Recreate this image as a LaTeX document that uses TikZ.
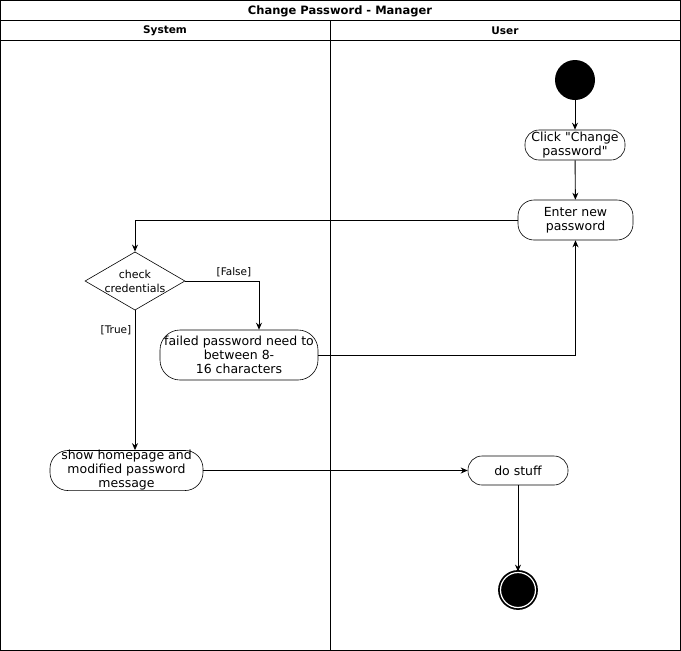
\documentclass[tikz,border=0pt]{standalone}
\usepackage{fontspec}
\setmainfont{DejaVu Sans}
\usepackage{tikz}
\usetikzlibrary{arrows,arrows.meta,shapes,calc,positioning}
\tikzstyle{lane}  =[line width=0.9pt]
\tikzstyle{action}=[draw, rectangle, rounded corners=14pt,
                    line width=0.6pt, align=center, inner sep=0pt,
                    font=\fontsize{12.5}{14}\selectfont]
\tikzstyle{decision}=[draw, diamond, aspect=1.7, inner sep=0pt,
                    minimum width=100pt, minimum height=58pt,
                    line width=0.6pt, align=center,
                    font=\fontsize{11}{14}\selectfont]
\tikzstyle{edge}  =[->, >={Stealth[length=7pt,width=6pt]}, line width=0.9pt]
\tikzstyle{guard} =[font=\fontsize{10.5}{11}\selectfont]
\tikzstyle{head}  =[font=\bfseries\fontsize{10.5}{11}\selectfont]

\begin{document}
\begin{tikzpicture}[x=1pt,y=-1pt]
    \useasboundingbox (0,0) rectangle (681,651);

    % swimlanes
    \draw[lane] (0.5,0.5) rectangle (680.5,650.5);
    \draw[lane] (0.5,20.5) -- (680.5,20.5);
    \draw[lane] (0.5,40.5) -- (680.5,40.5);
    \draw[lane] (330.5,20.5) -- (330.5,650.5);
    \draw (340,11) node (title) [head, font=\bfseries\fontsize{11.5}{12}\selectfont] {Change Password - Manager};
    \draw (165,31) node (system) [head] {System};
    \draw (505,31) node (user) [head] {User};

    % user lane
    \draw (575,80) node (start) [circle, fill=black, minimum size=40pt, inner sep=0pt] {};
    \draw (575,145) node (click) [action, minimum width=100pt, minimum height=30pt] {Click \textquotedbl Change\\password\textquotedbl};
    \draw (575.5,220) node (enter) [action, rounded corners=16pt, minimum width=115pt, minimum height=40pt] {Enter new\\password};
    \draw (518,470.5) node (dostuff) [action, minimum width=100pt, minimum height=29pt] {do stuff};
    \draw (518,590) node (end) [circle, fill=black, draw=black, double=white,
        double distance=1.2pt, line width=1.8pt, minimum size=35pt, inner sep=0pt] {};

    % system lane
    \draw (135,281) node (check) [decision] {check\\credentials};
    \draw (239,355) node (failed) [action, rounded corners=20pt, minimum width=158pt, minimum height=50pt] {failed password need to\\between 8-\\16 characters};
    \draw (126.5,470.5) node (show) [action, rounded corners=18pt, minimum width=153pt, minimum height=39pt] {show homepage and\\modified password\\message};

    % flows
    \foreach \i/\j in {start/click,click/enter,dostuff/end,show/dostuff}
        \draw [edge] (\i) -- (\j);
    \draw [edge] (enter.west) -| (check.north);
    \draw [edge] (check.east) -| ([xshift=20pt]failed.north)
        node [guard, pos=0.33, above] {[False]};
    \draw [edge] (check.south) -- (check.south |- show.north)
        node [guard, pos=0.14, left] {[True]};
    \draw [edge] (failed.east) -| (enter.south);
\end{tikzpicture}
\end{document}
